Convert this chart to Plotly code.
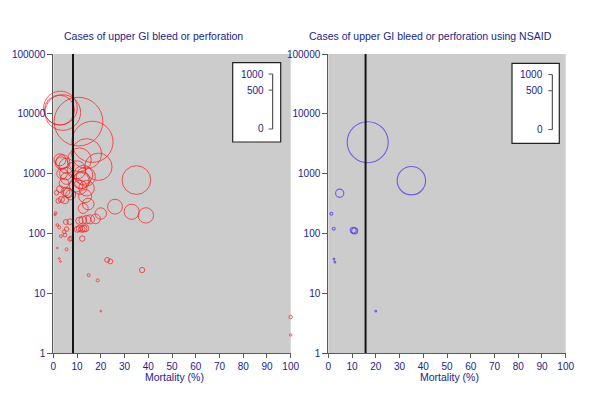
import math
import plotly.graph_objects as go

# ---------------- data ----------------
# Left panel: all cases of upper GI bleed or perforation (mortality %, number of cases)
all_mortality = [3.0, 4.0, 2.6, 10.6, 16.5, 14.0, 19.0, 35.0, 13.7, 11.6, 14.0, 9.8, 12.6, 12.0, 11.0,
                 26.0, 33.0, 39.0, 20.0, 17.8, 15.5, 14.0, 12.4, 11.0, 10.1, 11.0, 12.0, 12.8, 13.5, 12.2,
                 14.9, 18.7, 20.0, 22.7, 24.0, 37.4, 100.0, 100.0,
                 2.8, 3.5, 5.6, 4.0, 3.7, 5.3, 5.6, 4.5, 2.8, 5.1, 6.3, 2.1, 3.4, 4.9, 1.4, 6.0, 7.3,
                 9.6, 11.2, 13.4, 14.7, 12.6, 1.0, 0.7, 1.7, 2.5, 4.6, 4.9, 5.6, 3.2, 7.0, 5.6, 1.7,
                 2.5, 3.0, 5.3, 7.0, 7.5]
all_cases = [12500, 10500, 11500, 7400, 3400, 2150, 1300, 780, 890, 760, 570, 1150, 950, 780, 1700,
             280, 230, 200, 215, 175, 172, 170, 167, 163, 117, 121, 118, 120, 122, 82,
             20, 16.4, 5, 36, 34, 24.4, 4, 2,
             1700, 1490, 1350, 1580, 1000, 1000, 830, 690, 550, 500, 475, 350, 370, 360, 480, 480, 440,
             640, 590, 420, 310, 262, 220, 205, 138, 126, 107, 94, 118, 90, 80, 54, 57,
             38, 34, 155, 157, 83]

# Right panel: cases using NSAID
nsaid_mortality = [16.6, 35.0, 4.8, 1.3, 2.3, 10.5, 11.1, 2.4, 2.8, 20.0]
nsaid_cases = [3350, 760, 470, 214, 120, 113, 110, 37, 33, 5]

all_median_mortality = 8.3
nsaid_median_mortality = 15.7

x_ticks = [0, 10, 20, 30, 40, 50, 60, 70, 80, 90, 100]
y_ticks = [1, 10, 100, 1000, 10000, 100000]
y_tick_labels = ["1", "10", "100", "1000", "10000", "100000"]
size_legend_ticks = [0, 500, 1000]
size_legend_labels = ["0", "500", "1000"]

titles = ["Cases of upper GI bleed or perforation",
          "Cases of upper GI bleed or perforation using NSAID"]
x_title = "Mortality (%)"

# ---------------- styling ----------------
W, H = 600, 413
OFF = 8  # page body margin: the figure is drawn 8 px right and down
TXT = "#23238a"
FONT = "Liberation Sans, Arial, Helvetica, sans-serif"
MAXD = 55.0  # bubble diameter (px) for 1000 deaths


def deaths(m, c):
    return m * c / 100.0


def diam(v):
    return MAXD * math.sqrt(v / 1000.0)


def px(xp):
    return (xp - OFF) / W


def py(yp):
    return 1 - (yp - OFF) / H


left_dom = [px(53.3), px(290.7)]
right_dom = [px(328.3), px(565.7)]
y_dom = [py(353), py(54)]

fig = go.Figure()

fig.add_trace(go.Scatter(
    x=all_mortality, y=all_cases, mode="markers", xaxis="x", yaxis="y",
    cliponaxis=False, hoverinfo="x+y",
    marker=dict(symbol="circle", color="rgba(0,0,0,0)",
                size=[diam(deaths(m, c)) for m, c in zip(all_mortality, all_cases)],
                sizemode="diameter", sizeref=1, sizemin=0.8,
                line=dict(color="#ff1a1a", width=1)),
))
fig.add_trace(go.Scatter(
    x=nsaid_mortality, y=nsaid_cases, mode="markers", xaxis="x2", yaxis="y2",
    cliponaxis=False, hoverinfo="x+y",
    marker=dict(symbol="circle", color="rgba(0,0,0,0)",
                size=[diam(deaths(m, c)) for m, c in zip(nsaid_mortality, nsaid_cases)],
                sizemode="diameter", sizeref=1, sizemin=0.8,
                line=dict(color="#4a2ff0", width=1.1)),
))

axis_common = dict(
    showgrid=False, zeroline=False, showline=True, linecolor="#5a5a5a", linewidth=1,
    ticks="outside", tickcolor="#5a5a5a", tickwidth=1, automargin=False,
    tickfont=dict(family=FONT, size=10, color=TXT),
)
xax = dict(axis_common, range=[0, 100], tickvals=x_ticks, ticklen=4)
yax = dict(axis_common, type="log", range=[0, 5], tickvals=y_ticks, ticktext=y_tick_labels, ticklen=5)

shapes = []
annotations = []

# median lines
for xr, val in (("x", all_median_mortality), ("x2", nsaid_median_mortality)):
    shapes.append(dict(type="line", xref=xr, yref="paper", x0=val, x1=val,
                       y0=y_dom[0], y1=y_dom[1], line=dict(color="#151515", width=2)))

# size legends (white box with sqrt-scaled axis)
for (bx0, bx1, by0, by1, lx) in ((232.7, 280.7, 62.7, 142.0, 272.7),
                                  (512.0, 559.3, 63.3, 143.3, 552.3)):
    shapes.append(dict(type="rect", xref="paper", yref="paper",
                       x0=px(bx0), x1=px(bx1), y0=py(by1), y1=py(by0),
                       fillcolor="white", line=dict(color="#222222", width=1.2), layer="above"))
    base = by0 + 66.3  # pixel y of value 0
    top = base - diam(max(size_legend_ticks))
    shapes.append(dict(type="line", xref="paper", yref="paper",
                       x0=px(lx), x1=px(lx), y0=py(base), y1=py(top),
                       line=dict(color="#333333", width=1), layer="above"))
    for v, lab in zip(size_legend_ticks, size_legend_labels):
        yy = base - diam(v)
        shapes.append(dict(type="line", xref="paper", yref="paper",
                           x0=px(lx - 4), x1=px(lx), y0=py(yy), y1=py(yy),
                           line=dict(color="#555555", width=1), layer="above"))
        annotations.append(dict(text=lab, xref="paper", yref="paper", x=px(lx - 7), y=py(yy),
                                xanchor="right", yanchor="middle", showarrow=False,
                                font=dict(family=FONT, size=10, color=TXT)))

# titles
for t, cx in zip(titles, (153, 430)):
    annotations.append(dict(text=t, xref="paper", yref="paper", x=px(cx), y=py(36),
                            xanchor="center", yanchor="middle", showarrow=False,
                            font=dict(family=FONT, size=10.5, color=TXT)))
for cx in (174.5, 449.5):
    annotations.append(dict(text=x_title, xref="paper", yref="paper", x=px(cx), y=py(377),
                            xanchor="center", yanchor="middle", showarrow=False,
                            font=dict(family=FONT, size=10.5, color=TXT)))

fig.update_layout(
    width=W, height=H, margin=dict(l=0, r=0, t=0, b=0, pad=0, autoexpand=False),
    autosize=False,
    paper_bgcolor="white", plot_bgcolor="#cccccc",
    showlegend=False,
    xaxis=dict(xax, domain=left_dom, anchor="y"),
    yaxis=dict(yax, domain=y_dom, anchor="x"),
    xaxis2=dict(xax, domain=right_dom, anchor="y2"),
    yaxis2=dict(yax, domain=y_dom, anchor="x2"),
    shapes=shapes, annotations=annotations,
    font=dict(family=FONT, color=TXT),
)

fig.write_html("out.html")
